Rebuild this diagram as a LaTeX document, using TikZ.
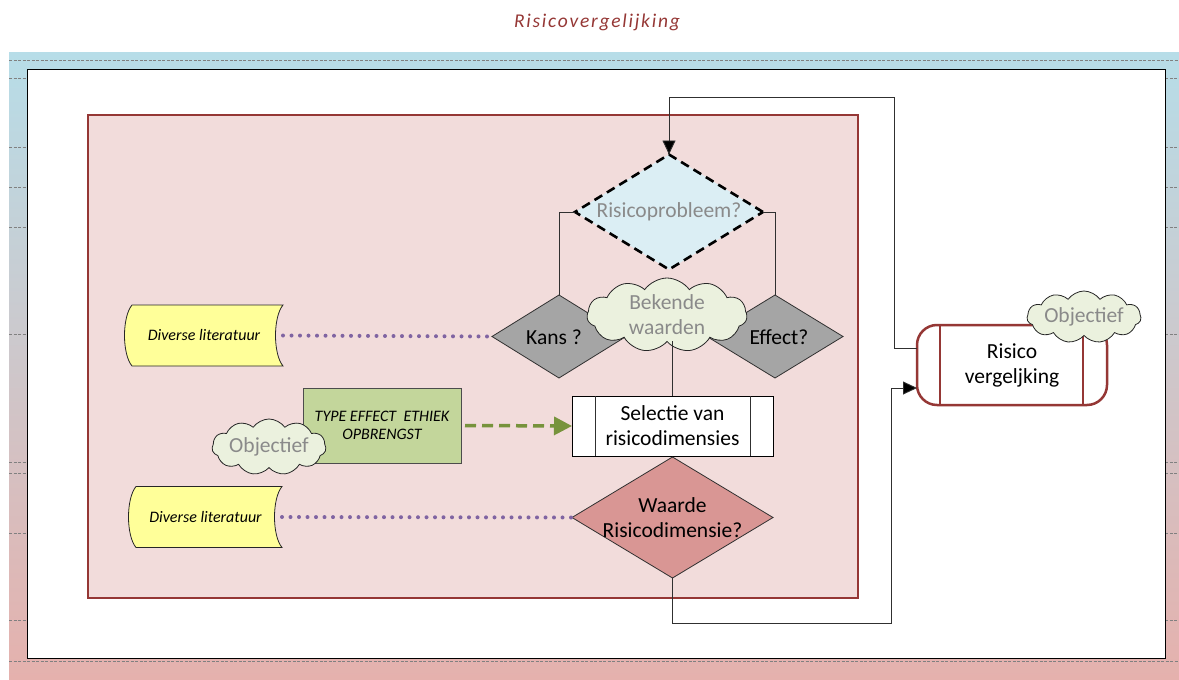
\documentclass[tikz,border=0pt]{standalone}
\usepackage{fontspec}
\setmainfont{Carlito}
\usetikzlibrary{shapes.geometric,shapes.symbols,arrows.meta,calc}
\definecolor{bandtop}{HTML}{B7DDE8}
\definecolor{bandbot}{HTML}{E5B1AD}
\definecolor{darkred}{HTML}{953735}
\definecolor{rosefill}{HTML}{F2DCDB}
\definecolor{bluefill}{HTML}{DBEEF4}
\definecolor{grayfill}{HTML}{A5A5A5}
\definecolor{cloudfill}{HTML}{EBF1DE}
\definecolor{graytext}{HTML}{8A8A8A}
\definecolor{waardefill}{HTML}{D99694}
\definecolor{greenfill}{HTML}{C3D69B}
\definecolor{greenarrow}{HTML}{77933C}
\definecolor{yellowfill}{HTML}{FFFF99}
\definecolor{purpledot}{HTML}{8064A2}
\definecolor{connector}{HTML}{303030}
\pgfdeclarelayer{bg}
\pgfdeclarelayer{mid}
\pgfsetlayers{bg,mid,main}
\begin{document}
\begin{tikzpicture}[x=1pt,y=-1pt,
  every node/.style={outer sep=0pt},
  bigtext/.style={font=\fontsize{21.5}{25}\selectfont, align=center},
  smalltext/.style={font=\fontsize{16}{18}\selectfont\itshape, align=center},
  marginline/.style={draw=gray, line width=0.9, dash pattern=on 3 off 1.5},
  conn/.style={draw=connector, line width=0.9},
  arr/.style={conn, -{Triangle[length=14,width=13,fill=black]}},
  dotline/.style={draw=purpledot, line width=4, line cap=round, dash pattern=on 0 off 8.5},
  greenarr/.style={draw=greenarrow, line width=3.5, dash pattern=on 11 off 6, -{Triangle[length=18,width=18,fill=greenarrow]}},
  decision/.style={diamond, draw=connector, line width=0.8, inner sep=0pt, bigtext},
  cloudbox/.style={cloud, cloud puffs=11, cloud puff arc=110, cloud ignores aspect, draw=black!85, line width=0.8, fill=cloudfill, inner sep=0pt, bigtext, text=graytext},
  litbox/.style={rectangle, minimum width=#1, minimum height=61, inner sep=0pt, smalltext},
  litshape/.style={fill=yellowfill, draw=black!85, line width=0.8}
]
\useasboundingbox (0,0) rectangle (1179,680);

% ---------- background band, frame and swimlane ----------
\begin{pgfonlayer}{bg}
  \shade[top color=bandtop, bottom color=bandbot] (9,52) rectangle (1179,680);
  \foreach \yy in {60,661} \draw[marginline] (9,\yy) -- (1179,\yy);
  \foreach \yy in {78,147,187,227,334,462,473,533,620} {
    \draw[marginline] (9,\yy) -- (27,\yy);
    \draw[marginline] (1165,\yy) -- (1179,\yy);
  }
  \fill[white] (27,69) rectangle (1165,658);
  \draw[black!55, line width=1] (27.5,70) -- (27.5,658);
  \draw[black, line width=0.9] (27,69) rectangle (1165,658);
  \fill[rosefill, draw=darkred, line width=2.5] (88,115) rectangle (858,598);
\end{pgfonlayer}

% ---------- title ----------
\node[font=\fontsize{19.5}{22}\selectfont, text=darkred] (title) at (597,22)
  {\itshape\addfontfeature{LetterSpace=9}Risicovergelijking};

% ---------- decisions ----------
\node[decision, minimum width=188, minimum height=115, aspect=1.63,
      fill=bluefill, draw=black, line width=2.6, dash pattern=on 9 off 5.5]
  (probl) at (669,212) {};
\node[bigtext, text=graytext] (probltext) at (669,212) {Risicoprobleem?};
\node[decision, minimum width=134, minimum height=83, aspect=1.6, fill=grayfill]
  (kans) at (559,336.5) {};
\node[decision, minimum width=136, minimum height=83, aspect=1.6, fill=grayfill]
  (effect) at (775,336.5) {};
\node[bigtext] (kanstext) at (554,337) {Kans ?};
\node[bigtext] (effecttext) at (779,337) {Effect?};
\node[cloudbox, minimum width=160, minimum height=74] (bekend) at (667,315) {Bekende\\waarden};

\node[rectangle, draw=black, line width=0.9, fill=white, minimum width=201, minimum height=60, bigtext]
  (selectie) at (672.5,426) {Selectie van\\risicodimensies};
\draw[conn] ($(selectie.north west)+(23,0)$) -- ($(selectie.south west)+(23,0)$);
\draw[conn] ($(selectie.north east)+(-23,0)$) -- ($(selectie.south east)+(-23,0)$);

\node[decision, minimum width=201, minimum height=121, aspect=1.66, fill=waardefill]
  (waarde) at (672.5,517.5) {};
\node[bigtext] (waardetext) at (672.5,517.5) {Waarde\\Risicodimensie?};

% ---------- green box ----------
\node[rectangle, draw=black!70, line width=0.8, fill=greenfill, minimum width=158, minimum height=75,
      font=\fontsize{16}{18}\selectfont\itshape, align=center]
  (typebox) at (382,425.5) {TYPE EFFECT\ \ ETHIEK\\OPBRENGST};
\node[cloudbox, minimum width=114, minimum height=56] (objleft) at (269,447) {Objectief};

% ---------- literature ----------
\node[litbox=158] (lit1) at (204,335.5) {Diverse literatuur};
\node[litbox=153] (lit2) at (205.5,517) {Diverse literatuur};
\begin{pgfonlayer}{mid}
  \foreach \nm in {lit1,lit2} {
    \draw[litshape] ($(\nm.north west)+(7,0)$) -- (\nm.north east)
      .. controls ($(\nm.north east)+(-10,12)$) and ($(\nm.south east)+(-10,-12)$) .. (\nm.south east)
      -- ($(\nm.south west)+(7,0)$)
      .. controls ($(\nm.south west)+(-3,-12)$) and ($(\nm.north west)+(-3,12)$) .. cycle;
  }
\end{pgfonlayer}

% ---------- Risico vergelijking ----------
\node[rectangle, rounded corners=20, draw=darkred, line width=2.5, fill=white,
      minimum width=190, minimum height=80, bigtext]
  (risico) at (1012,365) {Risico\\vergeljking};
\draw[darkred, line width=2.5] ($(risico.north west)+(23,0)$) -- ($(risico.south west)+(23,0)$);
\draw[darkred, line width=2.5] ($(risico.north east)+(-24,0)$) -- ($(risico.south east)+(-24,0)$);
\node[cloudbox, minimum width=114, minimum height=52] (objright) at (1084,317) {Objectief};

% ---------- connectors ----------
\draw[conn] (probl.west) -| (kans.north);
\draw[conn] (probl.east) -| (effect.north);
\draw[conn] (selectie.north) -- (selectie.north |- bekend.south);
\draw[arr] ($(risico.west)+(0,-17)$) -| (894,97) -| (probl.north);
\draw[arr] (waarde.south) |- (891,623) |- ($(risico.west)+(0,23)$);
\draw[dotline] (lit1.east) -- (kans.west);
\draw[dotline] (lit2.east) -- (waarde.west);
\draw[greenarr] ($(typebox.east)+(4,0)$) -- (selectie.west);
\end{tikzpicture}
\end{document}
